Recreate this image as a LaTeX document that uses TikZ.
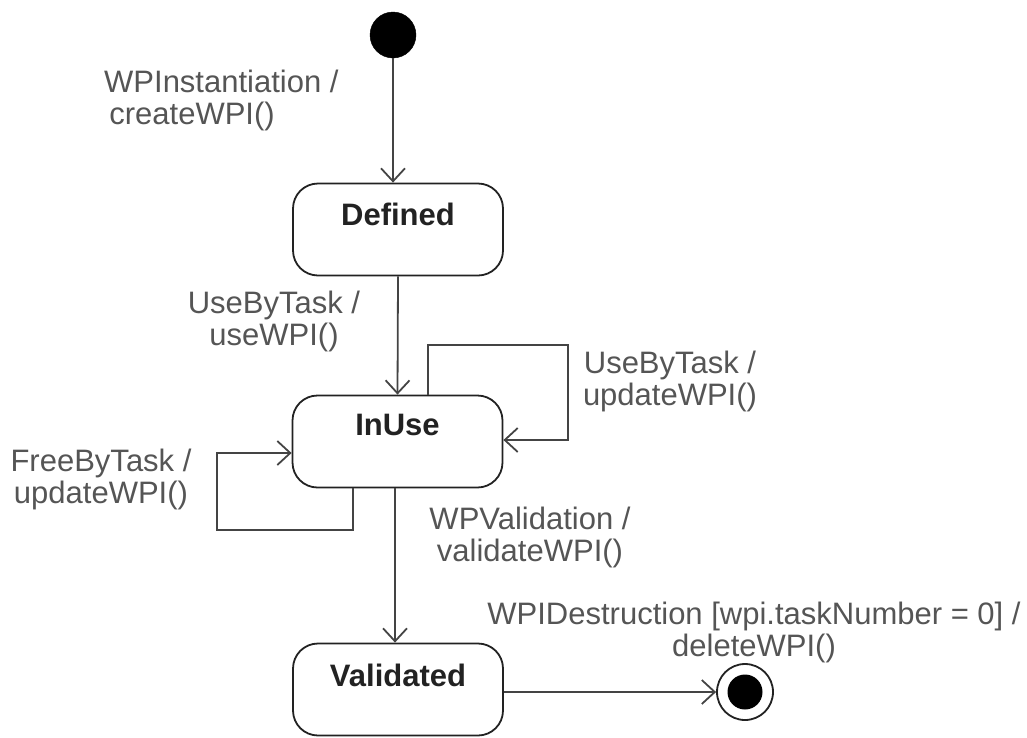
\documentclass[tikz,border=0pt]{standalone}
\usepackage{fontspec}
\setmainfont{Liberation Sans}
\usetikzlibrary{arrows.meta}
\definecolor{linegray}{HTML}{444444}
\definecolor{labelgray}{HTML}{555555}
\definecolor{namegray}{HTML}{222222}
\begin{document}
\begin{tikzpicture}[x=1pt,y=-1pt,
  line/.style={draw=linegray, line width=1.8pt},
  arr/.style={line, -{Straight Barb[length=13pt,width=24pt,line width=1.8pt]}},
  statebox/.style={draw=namegray, line width=1.8pt, rounded corners=25pt, minimum width=210pt, minimum height=92pt, inner sep=0pt},
  statename/.style={font=\fontsize{31}{33}\selectfont\bfseries, text=namegray, inner sep=0pt},
  lbl/.style={font=\fontsize{31}{32}\selectfont, text=labelgray, align=center, inner sep=0pt}]
\useasboundingbox (0,0) rectangle (1027,737);

% states
\node[statebox] (defined) at (398,229.5) {};
\node[statename] (definedname) at (398,214) {Defined};
\node[statebox] (inuse) at (397.5,441.5) {};
\node[statename] (inusename) at (397.5,425) {InUse};
\node[statebox] (validated) at (398,689.5) {};
\node[statename] (validatedname) at (398,675) {Validated};

% pseudo states
\node[circle, fill=black, draw=black, minimum size=46pt, inner sep=0pt] (init) at (393,35) {};
\node[circle, draw=namegray, line width=1.8pt, fill=white, minimum size=56pt, inner sep=0pt] (final) at (745,692) {};
\node[circle, fill=black, minimum size=35pt, inner sep=0pt] (finaldot) at (final) {};

% helper coordinates
\coordinate (r1) at (428,345);
\coordinate (r2) at (568,440);
\coordinate (l1) at (217,530);
\coordinate (l2) at (353,453);
\coordinate (v1) at (395,0);

% transitions
\draw[arr] (init) -- (init |- defined.north);
\draw[arr] (defined.south) -- (inuse.north);
\draw[arr] (inuse.north -| r1) -- (r1) -- (r1 -| r2) -- (r2) -- (r2 -| inuse.east);
\draw[arr] (inuse.south -| l2) -- (l2 |- l1) -- (l1) -- (l1 |- l2) -- (l2 -| inuse.west);
\draw[arr] (inuse.south -| v1) -- (validated.north -| v1);
\draw[arr] (validated.east |- final) -- (final.west);

% labels
\node[lbl, align=left, anchor=west] (lblinit) at (104,100) {WPInstantiation /\\ \,createWPI()};
\node[lbl] (lbluse) at (274,321) {UseByTask /\\useWPI()};
\node[lbl] (lblupd) at (670,381) {UseByTask /\\updateWPI()};
\node[lbl] (lblfree) at (101,479) {FreeByTask /\\updateWPI()};
\node[lbl] (lblval) at (530,537) {WPValidation /\\validateWPI()};
\node[lbl] (lbldel) at (754,632) {WPIDestruction [wpi.taskNumber = 0] /\\deleteWPI()};
\end{tikzpicture}
\end{document}
